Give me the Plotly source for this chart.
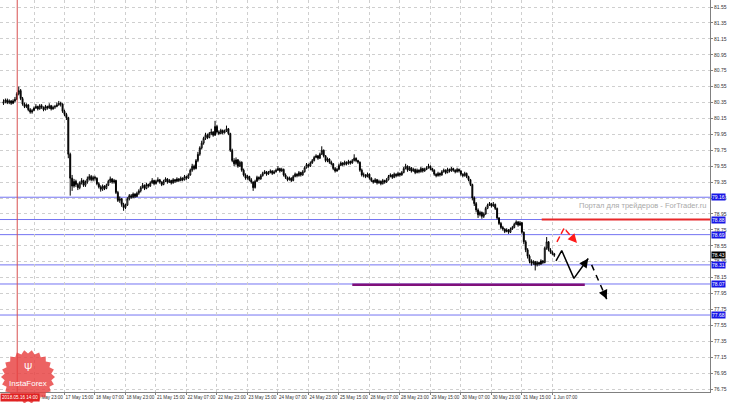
"""H1 candlestick chart with support levels and forecast arrows (MT4 style)."""

import numpy as np
import plotly.graph_objects as go

# hourly bars, 16 May 2018 07:00 ... 1 Jun 2018 09:00
closes = [
    80.36, 80.38, 80.35, 80.37, 80.34, 80.37, 80.39, 80.46, 80.50, 80.40,
    80.33, 80.30, 80.32, 80.26, 80.23, 80.25, 80.28, 80.30, 80.27, 80.31,
    80.29, 80.26, 80.30, 80.28, 80.31, 80.27, 80.29, 80.30, 80.32, 80.34,
    80.33, 80.24, 80.20, 80.16, 79.70, 79.40, 79.30, 79.36, 79.32, 79.28,
    79.34, 79.37, 79.31, 79.35, 79.39, 79.42, 79.38, 79.41, 79.40, 79.33,
    79.29, 79.26, 79.30, 79.27, 79.31, 79.36, 79.39, 79.35, 79.37, 79.22,
    79.12, 79.14, 79.07, 79.03, 79.06, 79.14, 79.18, 79.16, 79.20, 79.17,
    79.21, 79.24, 79.28, 79.31, 79.27, 79.32, 79.30, 79.34, 79.37, 79.33,
    79.36, 79.38, 79.35, 79.32, 79.36, 79.39, 79.35, 79.37, 79.34, 79.38,
    79.36, 79.39, 79.37, 79.40, 79.38, 79.42, 79.40, 79.44, 79.50, 79.55,
    79.52, 79.62, 79.70, 79.78, 79.84, 79.90, 79.94, 79.91, 79.96, 79.98,
    79.94, 80.05, 79.98, 79.96, 80.00, 79.97, 79.99, 80.02, 79.96, 79.75,
    79.62, 79.58, 79.63, 79.55, 79.60, 79.50, 79.44, 79.40, 79.42, 79.38,
    79.35, 79.28, 79.36, 79.41, 79.39, 79.43, 79.46, 79.48, 79.45, 79.47,
    79.49, 79.46, 79.48, 79.50, 79.52, 79.49, 79.51, 79.44, 79.41, 79.38,
    79.40, 79.37, 79.42, 79.45, 79.43, 79.47, 79.44, 79.48, 79.53, 79.57,
    79.55, 79.59, 79.62, 79.66, 79.68, 79.65, 79.70, 79.75, 79.68, 79.62,
    79.64, 79.60, 79.58, 79.52, 79.49, 79.51, 79.56, 79.59, 79.57, 79.60,
    79.58, 79.61, 79.59, 79.62, 79.65, 79.62, 79.60, 79.50, 79.44, 79.44,
    79.42, 79.45, 79.40, 79.37, 79.35, 79.38, 79.34, 79.36, 79.33, 79.37,
    79.35, 79.38, 79.42, 79.44, 79.41, 79.45, 79.43, 79.46, 79.44, 79.47,
    79.52, 79.55, 79.50, 79.53, 79.49, 79.51, 79.47, 79.50, 79.48, 79.52,
    79.49, 79.51, 79.53, 79.55, 79.52, 79.50, 79.45, 79.43, 79.46, 79.44,
    79.48, 79.50, 79.47, 79.51, 79.49, 79.52, 79.50, 79.48, 79.51, 79.49,
    79.45, 79.43, 79.46, 79.42, 79.38, 79.32, 79.15, 79.08, 79.00, 78.94,
    78.97, 78.92, 78.95, 79.02, 79.06, 79.08, 79.05, 79.07, 79.02, 78.90,
    78.83, 78.78, 78.76, 78.73, 78.75, 78.72, 78.76, 78.78, 78.82, 78.85,
    78.81, 78.84, 78.72, 78.60, 78.50, 78.42, 78.36, 78.33, 78.35, 78.31,
    78.34, 78.32, 78.36, 78.34, 78.52, 78.60, 78.50, 78.47, 78.45, 78.43,
]
highs = [
    80.39, 80.40, 80.40, 80.39, 80.38, 80.39, 80.42, 80.48, 80.55, 80.52,
    80.42, 80.35, 80.34, 80.33, 80.28, 80.27, 80.30, 80.33, 80.31, 80.33,
    80.33, 80.30, 80.32, 80.31, 80.34, 80.32, 80.31, 80.32, 80.35, 80.37,
    80.36, 80.34, 80.26, 80.22, 80.17, 79.72, 79.44, 79.39, 79.38, 79.34,
    79.36, 79.40, 79.38, 79.37, 79.42, 79.45, 79.44, 79.43, 79.43, 79.41,
    79.35, 79.31, 79.32, 79.31, 79.33, 79.38, 79.42, 79.40, 79.39, 79.38,
    79.24, 79.17, 79.15, 79.09, 79.08, 79.16, 79.20, 79.20, 79.22, 79.21,
    79.23, 79.26, 79.30, 79.34, 79.32, 79.34, 79.33, 79.36, 79.40, 79.38,
    79.38, 79.41, 79.39, 79.36, 79.38, 79.41, 79.40, 79.39, 79.38, 79.40,
    79.39, 79.41, 79.40, 79.42, 79.41, 79.44, 79.43, 79.46, 79.52, 79.58,
    79.57, 79.64, 79.73, 79.80, 79.87, 79.92, 79.97, 79.96, 79.98, 80.02,
    79.99, 80.12, 80.07, 80.00, 80.02, 80.01, 80.01, 80.06, 80.03, 79.97,
    79.77, 79.65, 79.66, 79.64, 79.62, 79.61, 79.52, 79.46, 79.44, 79.43,
    79.40, 79.36, 79.38, 79.43, 79.42, 79.45, 79.48, 79.50, 79.49, 79.49,
    79.51, 79.50, 79.50, 79.52, 79.55, 79.53, 79.53, 79.52, 79.46, 79.42,
    79.42, 79.41, 79.44, 79.47, 79.46, 79.49, 79.48, 79.50, 79.55, 79.59,
    79.58, 79.61, 79.64, 79.68, 79.70, 79.69, 79.72, 79.80, 79.76, 79.69,
    79.66, 79.65, 79.62, 79.59, 79.54, 79.53, 79.58, 79.61, 79.60, 79.62,
    79.61, 79.63, 79.62, 79.64, 79.70, 79.66, 79.63, 79.61, 79.52, 79.47,
    79.45, 79.47, 79.46, 79.41, 79.38, 79.40, 79.39, 79.38, 79.37, 79.39,
    79.38, 79.40, 79.44, 79.46, 79.45, 79.47, 79.46, 79.48, 79.47, 79.49,
    79.54, 79.58, 79.56, 79.55, 79.54, 79.53, 79.52, 79.52, 79.51, 79.54,
    79.53, 79.53, 79.55, 79.58, 79.56, 79.53, 79.51, 79.46, 79.48, 79.47,
    79.50, 79.52, 79.51, 79.53, 79.52, 79.54, 79.53, 79.51, 79.53, 79.52,
    79.50, 79.46, 79.48, 79.47, 79.43, 79.39, 79.33, 79.17, 79.10, 79.02,
    78.99, 78.98, 78.97, 79.04, 79.08, 79.10, 79.09, 79.10, 79.08, 79.03,
    78.91, 78.85, 78.80, 78.77, 78.77, 78.76, 78.78, 78.80, 78.84, 78.87,
    78.86, 78.86, 78.85, 78.73, 78.62, 78.52, 78.44, 78.38, 78.37, 78.36,
    78.36, 78.35, 78.38, 78.37, 78.54, 78.66, 78.61, 78.52, 78.49, 78.46,
]
lows = [
    80.32, 80.34, 80.33, 80.33, 80.32, 80.33, 80.35, 80.38, 80.44, 80.38,
    80.31, 80.28, 80.28, 80.24, 80.21, 80.21, 80.24, 80.27, 80.25, 80.26,
    80.27, 80.24, 80.25, 80.26, 80.27, 80.25, 80.26, 80.27, 80.29, 80.31,
    80.30, 80.22, 80.18, 80.13, 79.65, 79.18, 79.24, 79.28, 79.29, 79.25,
    79.26, 79.32, 79.29, 79.29, 79.33, 79.37, 79.36, 79.36, 79.37, 79.31,
    79.27, 79.23, 79.24, 79.25, 79.26, 79.30, 79.34, 79.33, 79.33, 79.20,
    79.10, 79.09, 79.04, 78.99, 79.01, 79.05, 79.12, 79.14, 79.15, 79.15,
    79.16, 79.19, 79.22, 79.27, 79.25, 79.26, 79.28, 79.29, 79.33, 79.31,
    79.32, 79.35, 79.33, 79.30, 79.31, 79.35, 79.33, 79.34, 79.32, 79.33,
    79.34, 79.35, 79.35, 79.36, 79.36, 79.37, 79.38, 79.39, 79.43, 79.48,
    79.50, 79.51, 79.60, 79.68, 79.76, 79.82, 79.88, 79.89, 79.90, 79.94,
    79.92, 79.93, 79.96, 79.94, 79.95, 79.95, 79.96, 79.98, 79.94, 79.73,
    79.60, 79.55, 79.56, 79.53, 79.54, 79.48, 79.42, 79.38, 79.38, 79.36,
    79.33, 79.24, 79.27, 79.35, 79.37, 79.38, 79.42, 79.45, 79.43, 79.44,
    79.46, 79.44, 79.45, 79.47, 79.49, 79.47, 79.48, 79.42, 79.39, 79.36,
    79.37, 79.35, 79.36, 79.41, 79.41, 79.42, 79.42, 79.43, 79.47, 79.52,
    79.53, 79.54, 79.58, 79.61, 79.65, 79.63, 79.64, 79.69, 79.66, 79.60,
    79.60, 79.58, 79.56, 79.50, 79.47, 79.48, 79.50, 79.55, 79.55, 79.56,
    79.56, 79.57, 79.57, 79.58, 79.61, 79.60, 79.58, 79.48, 79.42, 79.41,
    79.40, 79.41, 79.38, 79.35, 79.33, 79.34, 79.32, 79.33, 79.31, 79.32,
    79.33, 79.34, 79.37, 79.41, 79.39, 79.40, 79.41, 79.42, 79.42, 79.43,
    79.46, 79.51, 79.48, 79.49, 79.47, 79.48, 79.45, 79.46, 79.46, 79.47,
    79.47, 79.48, 79.50, 79.52, 79.50, 79.48, 79.43, 79.41, 79.42, 79.42,
    79.43, 79.47, 79.45, 79.46, 79.47, 79.48, 79.48, 79.46, 79.47, 79.47,
    79.43, 79.41, 79.42, 79.40, 79.36, 79.30, 79.12, 79.05, 78.97, 78.90,
    78.92, 78.89, 78.90, 78.94, 79.01, 79.05, 79.03, 79.04, 79.00, 78.88,
    78.81, 78.76, 78.74, 78.71, 78.72, 78.70, 78.71, 78.75, 78.77, 78.81,
    78.79, 78.80, 78.70, 78.57, 78.47, 78.39, 78.33, 78.30, 78.31, 78.24,
    78.29, 78.30, 78.31, 78.32, 78.33, 78.50, 78.48, 78.45, 78.43, 78.41,
]
first_open = 80.34
opens = [first_open] + closes[:-1]
bars = list(range(len(closes)))

tick_bars = list(range(16, 289, 16))
tick_labels = [
    "16 May 23:00", "17 May 15:00", "18 May 07:00", "18 May 23:00",
    "21 May 15:00", "22 May 07:00", "22 May 23:00", "23 May 15:00",
    "24 May 07:00", "24 May 23:00", "25 May 15:00", "28 May 07:00",
    "28 May 23:00", "29 May 15:00", "30 May 07:00", "30 May 23:00",
    "31 May 15:00", "1 Jun 07:00",
]

# horizontal levels
level_prices = [79.16, 78.88, 78.69, 78.31, 78.07, 77.68]
level_labels = ["79.16", "78.88", "78.69", "78.31", "78.07", "77.68"]
current_price = 78.43
resist_level = 78.88
resist_bars = [282.4, 372]
support_level = 78.06
support_bars = [183, 305]
vline_bar = 7.2
vline_label = "2018.05.16 14:00"

# hand-drawn forecast
red_x = [290.4, 294.1, 300.9]
red_y = [78.60, 78.77, 78.585]
black_x = [289.9, 292.9, 299.3, 306.8]
black_y = [78.36, 78.49, 78.14, 78.39]
dash_x = [308.6, 316.5]
dash_y = [78.31, 77.88]

x_range = [-1.84, 370.7]
y_range = [76.713, 81.638]

fig = go.Figure()

for p in level_prices:
    fig.add_hline(y=p, line_color="#7474f2", line_width=1, layer="below")

fig.add_vline(x=vline_bar, line_color="#d85050", line_width=1)

fig.add_trace(
    go.Candlestick(
        x=bars,
        open=opens,
        high=highs,
        low=lows,
        close=closes,
        increasing=dict(line=dict(color="#000000", width=1), fillcolor="#ffffff"),
        decreasing=dict(line=dict(color="#000000", width=1), fillcolor="#000000"),
        hoverinfo="skip",
    )
)

fig.add_trace(go.Scatter(x=resist_bars, y=[resist_level] * 2, mode="lines",
                         line=dict(color="#e8282a", width=2)))
fig.add_trace(go.Scatter(x=support_bars, y=[support_level] * 2, mode="lines",
                         line=dict(color="#80107a", width=2.5)))
fig.add_trace(go.Scatter(x=red_x, y=red_y, mode="lines",
                         line=dict(color="#ff1a1a", width=1.5, dash="6px,3px")))
fig.add_trace(go.Scatter(x=black_x, y=black_y, mode="lines",
                         line=dict(color="#000000", width=1.5)))
fig.add_trace(go.Scatter(x=dash_x, y=dash_y, mode="lines",
                         line=dict(color="#000000", width=1.5, dash="6px,5px")))

# arrow heads at the ends of the forecast paths
for xs, ys, col in [(red_x, red_y, "#ff1a1a"), (black_x, black_y, "#000000"),
                    (dash_x, dash_y, "#000000")]:
    x1, y1, x0, y0 = xs[-1], ys[-1], xs[-2], ys[-2]
    fig.add_annotation(
        x=x1, y=y1, ax=x1 - (x1 - x0) * 0.25, ay=y1 - (y1 - y0) * 0.25,
        xref="x", yref="y", axref="x", ayref="y", text="",
        showarrow=True, arrowhead=2, arrowsize=1.2, arrowwidth=1.5,
        arrowcolor=col, standoff=0,
    )

# price labels on the right axis
for p, lab in zip(level_prices, level_labels):
    fig.add_annotation(x=1, y=p, xref="paper", yref="y", xanchor="left",
                       xshift=1, text=lab, showarrow=False, bgcolor="#1717e6",
                       borderpad=0, font=dict(size=5, color="white"))
fig.add_annotation(x=1, y=current_price, xref="paper", yref="y", xanchor="left",
                   xshift=1, text=f"{current_price:.2f}", showarrow=False,
                   bgcolor="#000000", borderpad=0,
                   font=dict(size=5, color="white"))

# time label of the vertical line
fig.add_annotation(x=0, y=0, xref="paper", yref="paper", xanchor="left",
                   yanchor="top", yshift=-1, text=vline_label, showarrow=False,
                   bgcolor="#e02222", borderpad=1,
                   font=dict(size=4.6, color="white"))

fig.add_annotation(x=335.5, y=79.05, xref="x", yref="y",
                   text="Портал для трейдеров - ForTrader.ru", showarrow=False,
                   font=dict(size=7.5, color="#a9a9a9"))

# InstaForex badge
n_pts = 44
ang = np.linspace(0, 2 * np.pi, n_pts, endpoint=False)
rad = np.where(np.arange(n_pts) % 2 == 0, 27, 23.5)
badge = "M" + " L".join(f"{r * np.cos(a):.1f},{r * np.sin(a):.1f}" for r, a in zip(rad, ang)) + " Z"
fig.add_shape(type="path", path=badge, xref="paper", yref="paper",
              xsizemode="pixel", ysizemode="pixel", xanchor=28 / 710,
              yanchor=(392 - 377) / 392, fillcolor="rgba(232,64,64,0.82)",
              line_width=0)
fig.add_annotation(x=28 / 710, y=(392 - 367) / 392, xref="paper", yref="paper",
                   xanchor="center", yanchor="middle",
                   text="Ψ", showarrow=False, font=dict(size=10, color="white"))
fig.add_annotation(x=28 / 710, y=(392 - 383) / 392, xref="paper", yref="paper",
                   xanchor="center", yanchor="middle",
                   text="InstaForex", showarrow=False,
                   font=dict(size=8, color="white", family="Liberation Sans"))

fig.update_layout(
    width=730,
    height=403,
    margin=dict(l=0, r=20, t=0, b=11, pad=0),
    paper_bgcolor="white",
    plot_bgcolor="white",
    showlegend=False,
    hovermode=False,
    font=dict(family="Liberation Sans", size=5, color="#333333"),
    xaxis=dict(
        range=x_range,
        tickvals=tick_bars,
        ticktext=tick_labels,
        tickangle=0,
        ticklabelposition="outside right",
        ticklabeloverflow="allow",
        automargin=False,
        ticks="outside",
        ticklen=2,
        tickcolor="#808080",
        showgrid=True,
        gridcolor="#cfcfcf",
        griddash="dot",
        showline=True,
        linecolor="#808080",
        zeroline=False,
        rangeslider=dict(visible=False),
        tickfont=dict(size=4.6),
    ),
    yaxis=dict(
        range=y_range,
        side="right",
        tick0=76.75,
        dtick=0.2,
        tickformat=".2f",
        ticklabeloverflow="allow",
        automargin=False,
        ticks="outside",
        ticklen=2,
        tickcolor="#808080",
        showgrid=True,
        gridcolor="#cfcfcf",
        griddash="dot",
        showline=True,
        linecolor="#808080",
        zeroline=False,
        tickfont=dict(size=5),
    ),
)

# the page's default 8px body margin would push the figure out of the window
fig.write_html(
    "out.html",
    config={"displayModeBar": False},
    post_script="document.body.style.margin='0px';",
)
